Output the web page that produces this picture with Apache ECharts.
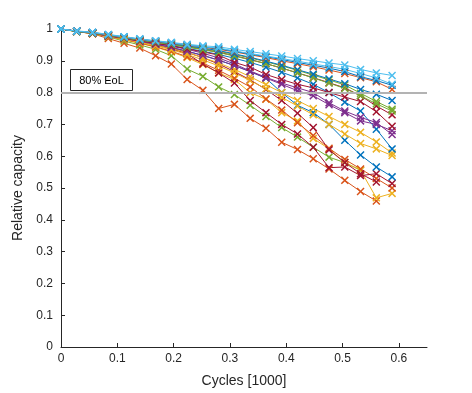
<!DOCTYPE html>
<html>
<head>
<meta charset="utf-8">
<script src="https://cdn.jsdelivr.net/npm/echarts@6/dist/echarts.min.js"></script>
<style>html,body{margin:0;padding:0;background:#fff}#c{width:472px;height:393px}</style>
</head>
<body>
<div id="c"></div>
<script>
const cycles = [0,0.028,0.056,0.084,0.112,0.14,0.168,0.196,0.224,0.252,0.28,0.308,0.336,0.364,0.392,0.42,0.448,0.476,0.504,0.532,0.56,0.588];
const xTicks = [0,0.1,0.2,0.3,0.4,0.5,0.6];
const yTicks = [0,0.1,0.2,0.3,0.4,0.5,0.6,0.7,0.8,0.9,1];
const eolThreshold = 0.8;
const eolLabel = '80% EoL';

const capOrangeSteep = [1,.993,.985,.970,.955,.940,.916,.890,.841,.807,.750,.763,.719,.688,.644,.621,.592,.560,.524,.489,.459];
const capGreenSteep = [1,.993,.986,.975,.962,.950,.936,.916,.874,.851,.818,.794,.760,.725,.690,.660,.628,.597,.580,.556];
const capYellowDrop = [1,.992,.985,.976,.966,.955,.943,.928,.910,.888,.862,.841,.800,.779,.737,.711,.656,.623,.580,.556,.469,.483];
const capOrangeLow = [1,.993,.986,.977,.967,.956,.944,.930,.913,.893,.870,.845,.818,.780,.745,.705,.665,.625,.590,.560,.530,.500];
const capRedLow = [1,.993,.987,.979,.970,.960,.950,.938,.922,.890,.862,.830,.775,.737,.700,.670,.628,.564,.566,.539,.545,.514];
const capRedLow2 = [1,.993,.987,.979,.970,.961,.951,.940,.926,.910,.890,.866,.840,.810,.775,.735,.690,.620,.580,.545,.519];
const capBlueLow = [1,.993,.987,.979,.970,.961,.952,.942,.930,.917,.902,.885,.866,.845,.800,.760,.737,.700,.650,.604,.566,.535];
const capYellow2 = [1,.992,.986,.977,.968,.958,.947,.935,.920,.903,.884,.862,.838,.812,.785,.758,.730,.700,.670,.640,.623,.602];
const capYellow1 = [1,.992,.986,.978,.969,.960,.950,.939,.926,.910,.893,.873,.850,.825,.800,.775,.750,.725,.700,.675,.645,.610];
const capBlueMid = [1,.993,.988,.980,.972,.964,.956,.948,.939,.930,.920,.908,.895,.880,.864,.846,.826,.800,.770,.742,.685,.623];
const capPurple2 = [1,.992,.986,.978,.970,.961,.952,.942,.930,.917,.902,.885,.866,.846,.826,.806,.790,.762,.737,.711,.700,.680];
const capPurple1 = [1,.993,.987,.979,.971,.963,.955,.946,.936,.924,.909,.890,.868,.848,.830,.815,.800,.768,.742,.722,.706,.668];
const capRedMid = [1,.993,.987,.979,.971,.963,.955,.947,.938,.928,.918,.895,.880,.857,.841,.826,.815,.800,.786,.772,.740,.694];
const capRedHigh = [1,.993,.988,.981,.973,.966,.959,.952,.944,.936,.927,.916,.904,.891,.877,.862,.847,.831,.815,.790,.758,.730];
const capGreen2 = [1,.992,.987,.980,.972,.965,.958,.951,.943,.935,.926,.915,.903,.891,.877,.862,.846,.830,.813,.790,.765,.742];
const capGreen1 = [1,.992,.987,.980,.973,.966,.959,.952,.945,.938,.930,.920,.909,.897,.884,.870,.855,.840,.824,.798,.772,.748];
const capBlue2 = [1,.993,.988,.981,.974,.967,.960,.954,.947,.940,.932,.922,.911,.899,.886,.872,.858,.843,.828,.810,.795,.775];
const capOrangeHigh = [1,.993,.988,.981,.974,.967,.961,.955,.949,.943,.936,.928,.919,.910,.900,.891,.881,.871,.860,.847,.834,.810];
const capBlue1 = [1,.993,.989,.982,.975,.968,.962,.956,.950,.944,.938,.930,.921,.913,.904,.895,.886,.877,.866,.850,.838,.823];
const capLightBlue2 = [1,.993,.989,.982,.975,.968,.962,.956,.950,.944,.940,.931,.923,.915,.907,.899,.890,.882,.873,.860,.846,.826];
const capLightBlue1 = [1,.994,.990,.983,.976,.969,.963,.958,.952,.947,.944,.936,.929,.922,.915,.907,.900,.893,.887,.873,.862,.854];

const C = {blue:'#0072BD', orange:'#D95319', yellow:'#EDB120', purple:'#7E2F8E', green:'#77AC30', lblue:'#4DBEEE', red:'#A2142F'};
const seriesDefs = [
  ['capOrangeSteep', capOrangeSteep, C.orange],
  ['capGreenSteep', capGreenSteep, C.green],
  ['capYellowDrop', capYellowDrop, C.yellow],
  ['capOrangeLow', capOrangeLow, C.orange],
  ['capRedLow', capRedLow, C.red],
  ['capRedLow2', capRedLow2, C.red],
  ['capBlueLow', capBlueLow, C.blue],
  ['capYellow2', capYellow2, C.yellow],
  ['capYellow1', capYellow1, C.yellow],
  ['capBlueMid', capBlueMid, C.blue],
  ['capPurple2', capPurple2, C.purple],
  ['capPurple1', capPurple1, C.purple],
  ['capRedMid', capRedMid, C.red],
  ['capRedHigh', capRedHigh, C.red],
  ['capGreen2', capGreen2, C.green],
  ['capGreen1', capGreen1, C.green],
  ['capBlue2', capBlue2, C.blue],
  ['capOrangeHigh', capOrangeHigh, C.orange],
  ['capBlue1', capBlue1, C.blue],
  ['capLightBlue2', capLightBlue2, C.lblue],
  ['capLightBlue1', capLightBlue1, C.lblue]
];

const xMark = 'path://M0,1.3 L1.3,0 L5,3.7 L8.7,0 L10,1.3 L6.3,5 L10,8.7 L8.7,10 L5,6.3 L1.3,10 L0,8.7 L3.7,5 Z';
const txt = '#262626';
const font = 'Liberation Sans';

const series = seriesDefs.map(([name, vals, col]) => ({
  name, type: 'line',
  data: vals.map((v, i) => [cycles[i], v]),
  symbol: xMark, symbolSize: 8,
  lineStyle: {color: col, width: 1},
  itemStyle: {color: col},
  emphasis: {disabled: true},
  animation: false, z: 3
}));
series.unshift({
  type: 'line', data: [], silent: true, animation: false,
  markLine: {silent: true, symbol: 'none', label: {show: false},
    lineStyle: {color: '#b3b3b3', width: 2, type: 'solid'},
    data: [{yAxis: eolThreshold}]}
});

const chart = echarts.init(document.getElementById('c'), null, {renderer: 'canvas'});
chart.setOption({
  backgroundColor: '#fff',
  animation: false,
  grid: {left: 61, right: 45, top: 29, bottom: 43, containLabel: false},
  xAxis: {
    type: 'value', min: 0, max: 0.65, interval: 0.1,
    name: 'Cycles [1000]', nameLocation: 'middle', nameGap: 27,
    nameTextStyle: {color: txt, fontSize: 14, fontFamily: font},
    axisLine: {lineStyle: {color: txt, width: 1}},
    axisTick: {inside: true, length: 4, lineStyle: {color: txt}, customValues: xTicks},
    axisLabel: {color: txt, fontSize: 12, fontFamily: font, margin: 6, customValues: xTicks,
      formatter: v => String(v)},
    splitLine: {show: false}
  },
  yAxis: {
    type: 'value', min: 0, max: 1, interval: 0.1,
    name: 'Relative capacity', nameLocation: 'middle', nameGap: 33,
    nameTextStyle: {color: txt, fontSize: 14, fontFamily: font},
    axisLine: {show: true, lineStyle: {color: txt, width: 1}},
    axisTick: {show: true, inside: true, length: 4, lineStyle: {color: txt}, customValues: yTicks},
    axisLabel: {color: txt, fontSize: 12, fontFamily: font, margin: 8, customValues: yTicks,
      formatter: v => String(v)},
    splitLine: {show: false}
  },
  graphic: [{
    type: 'group', left: 70, top: 69, z: 10,
    children: [
      {type: 'rect', shape: {x: 0, y: 0, width: 62, height: 21},
        style: {fill: '#fff', stroke: '#262626', lineWidth: 1}},
      {type: 'text', x: 31, y: 11, style: {text: eolLabel, fill: '#000', font: '11px "Liberation Sans"',
        align: 'center', verticalAlign: 'middle'}}
    ]
  }],
  series
});
</script>
</body>
</html>
